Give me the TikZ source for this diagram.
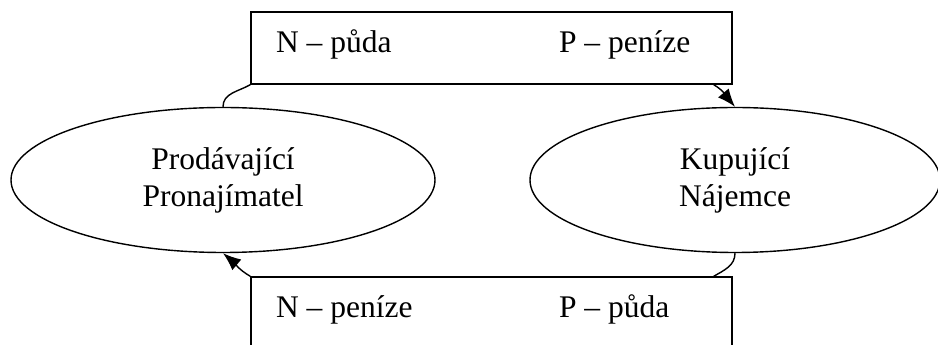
\documentclass[tikz,border=0pt]{standalone}
\usepackage{fontspec}
\setmainfont{Liberation Serif}
\usetikzlibrary{arrows.meta,shapes.geometric}

\begin{document}
\begin{tikzpicture}[x=1pt, y=1pt, line width=1.4pt, >={Latex[length=18pt,width=14pt]},
    font=\fontsize{31.5}{37}\selectfont,
    party/.style={draw, ellipse, inner sep=0pt, minimum height=145pt, align=center},
    flow/.style={draw, rectangle, inner sep=0pt, minimum width=481pt}]
  \useasboundingbox (0,0) rectangle (938,345);
  \clip (0,0) rectangle (938,345);
  % the two parties
  \node[party, minimum width=424pt] (seller) at (223,165) {Prodávající\\Pronajímatel};
  \node[party, minimum width=410pt] (buyer) at (735,165) {Kupující\\Nájemce};
  % upper and lower flow boxes
  \node[flow, minimum height=72pt] (upper) at (491.5,297) {};
  \node[flow, minimum height=100pt] (lower) at (491.5,18) {};
  \node[anchor=base west] (upN) at (272,292) {N – půda};
  \node[anchor=base west] (upP) at (555,292) {P – peníze};
  \node[anchor=base west] (loN) at (272,27) {N – peníze};
  \node[anchor=base west] (loP) at (555,27) {P – půda};
  % connectors
  \draw (seller.north) to[out=90, in=210] (upper.south west);
  \draw[->] ([xshift=-19pt]upper.south east) to[out=-30, in=130] (buyer.north);
  \draw (buyer.south) to[out=-90, in=30] ([xshift=-19pt]lower.north east);
  \draw[->] (lower.north west) to[out=150, in=-40] (seller.south);
\end{tikzpicture}
\end{document}
